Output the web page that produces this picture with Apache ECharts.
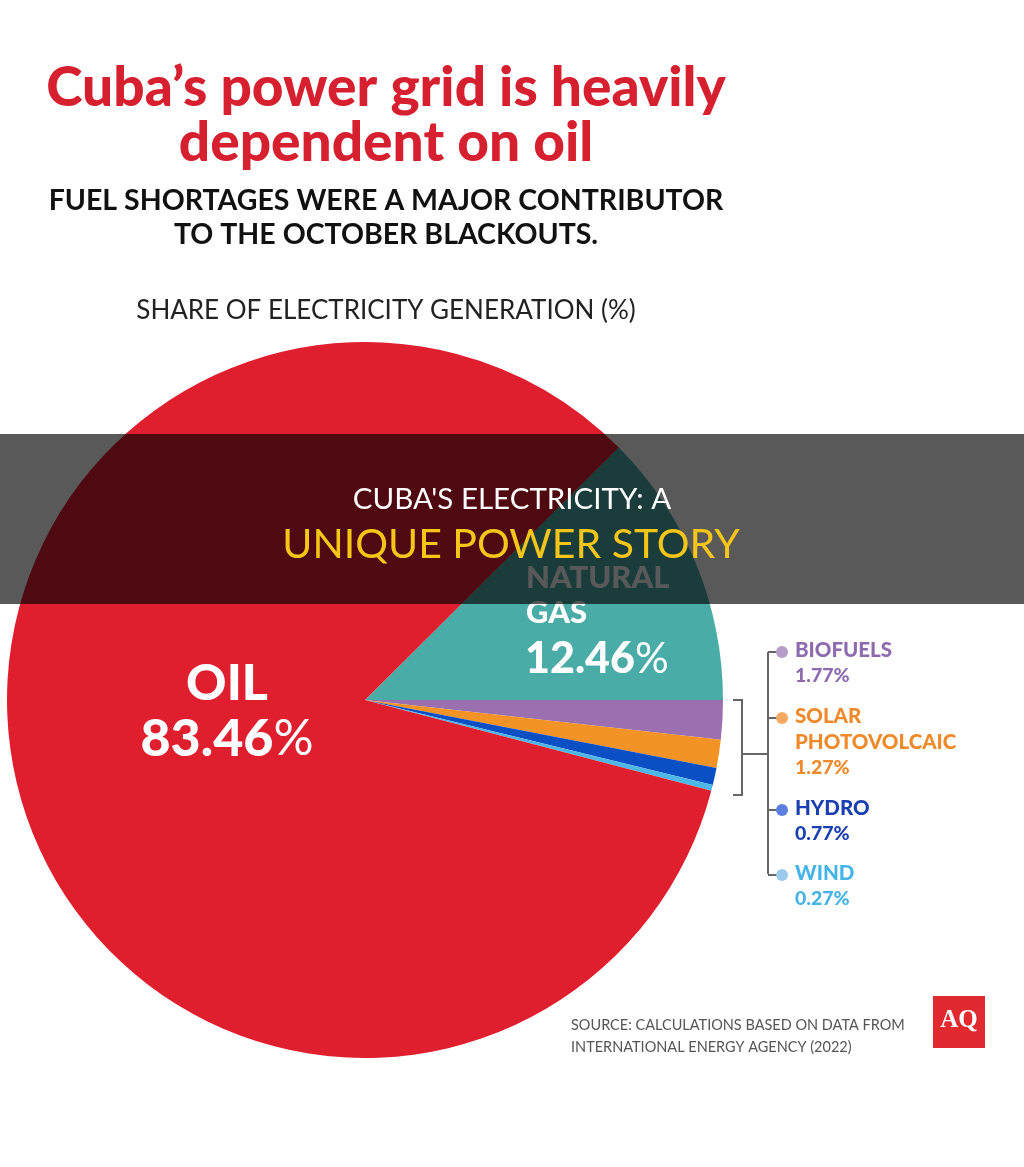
<!DOCTYPE html>
<html>
<head>
<meta charset="utf-8">
<script src="https://cdn.jsdelivr.net/npm/echarts@6/dist/echarts.min.js"></script>
<style>
  html, body { margin: 0; padding: 0; background: #fff; }
  #main { width: 1024px; height: 1167px; }
</style>
</head>
<body>
<div id="main"></div>
<script>
// data
const sources = ["Natural gas", "Biofuels", "Solar photovolcaic", "Hydro", "Wind", "Oil"];
const shares = [12.46, 1.77, 1.27, 0.77, 0.27, 83.46];
const sliceColors = ["#4aaca7", "#9a70b0", "#f39325", "#0b4fc4", "#4db8e8", "#e01f2e"];

// small sources shown in the side list
const smallNames = [["BIOFUELS"], ["SOLAR", "PHOTOVOLCAIC"], ["HYDRO"], ["WIND"]];
const smallShares = [1.77, 1.27, 0.77, 0.27];
const smallText = ["#8e6bb0", "#ef8a2a", "#1a3fb0", "#45b4e8"];
const smallDots = ["#b59cc9", "#f5a862", "#5a7fe0", "#9cc9ec"];

const cx = 365, cy = 700, R = 358;
const FONT = "Lato, 'Open Sans', sans-serif";

let chart = echarts.init(document.getElementById("main"));

function pct(v, big, small) {
  // number heavy, percent sign lighter like the original
  return {
    text: "{n|" + v.toFixed(2) + "}{p|%}",
    rich: {
      n: { font: "900 " + big + "px " + FONT, fill: "#fff" },
      p: { font: "normal " + small + "px " + FONT, fill: "#fff" }
    }
  };
}

let oilPct = pct(shares[5], 52, 50);
let gasPct = pct(shares[0], 43, 42);

let graphics = [
  // titles
  { type: "text", x: 386, y: 88, style: { text: "Cuba\u2019s power grid is heavily", font: "900 55px " + FONT, fill: "#d6202f", textAlign: "center", textVerticalAlign: "middle" } },
  { type: "text", x: 386, y: 143, style: { text: "dependent on oil", font: "900 55px " + FONT, fill: "#d6202f", textAlign: "center", textVerticalAlign: "middle" } },
  { type: "text", x: 386, y: 201, style: { text: "FUEL SHORTAGES WERE A MAJOR CONTRIBUTOR", font: "bold 28.5px " + FONT, fill: "#111", textAlign: "center", textVerticalAlign: "middle" } },
  { type: "text", x: 386, y: 235, style: { text: "TO THE OCTOBER BLACKOUTS.", font: "bold 28.5px " + FONT, fill: "#111", textAlign: "center", textVerticalAlign: "middle" } },
  { type: "text", x: 386, y: 311, style: { text: "SHARE OF ELECTRICITY GENERATION (%)", font: "normal 26px " + FONT, fill: "#222", textAlign: "center", textVerticalAlign: "middle" } },

  // labels inside the pie
  { type: "text", x: 227, y: 684, z: 10, style: { text: "OIL", font: "900 50px " + FONT, fill: "#fff", textAlign: "center", textVerticalAlign: "middle" } },
  { type: "text", x: 227, y: 739, z: 10, style: Object.assign({ textAlign: "center", textVerticalAlign: "middle" }, oilPct) },
  { type: "text", x: 526, y: 578, z: 10, style: { text: "NATURAL", font: "900 31px " + FONT, fill: "#fff", textAlign: "left", textVerticalAlign: "middle" } },
  { type: "text", x: 526, y: 613, z: 10, style: { text: "GAS", font: "900 31px " + FONT, fill: "#fff", textAlign: "left", textVerticalAlign: "middle" } },
  { type: "text", x: 525, y: 659, z: 10, style: Object.assign({ textAlign: "left", textVerticalAlign: "middle" }, gasPct) },

  // bracket
  { type: "polyline", z: 10, shape: { points: [[733, 700], [742, 700], [742, 795], [733, 795]] }, style: { stroke: "#666", lineWidth: 2, fill: null } },
  { type: "line", z: 10, shape: { x1: 742, y1: 754, x2: 768, y2: 754 }, style: { stroke: "#666", lineWidth: 2 } },
  { type: "line", z: 10, shape: { x1: 768, y1: 652, x2: 768, y2: 874 }, style: { stroke: "#666", lineWidth: 2 } },

  // source + logo
  { type: "text", x: 571, y: 1025, style: { text: "SOURCE: CALCULATIONS BASED ON DATA FROM", font: "normal 14.5px " + FONT, fill: "#555", textAlign: "left", textVerticalAlign: "middle" } },
  { type: "text", x: 571, y: 1047, style: { text: "INTERNATIONAL ENERGY AGENCY (2022)", font: "normal 14.5px " + FONT, fill: "#555", textAlign: "left", textVerticalAlign: "middle" } },
  { type: "rect", shape: { x: 933, y: 996, width: 52, height: 52 }, style: { fill: "#e02a2f" } },
  { type: "text", x: 959, y: 1021, style: { text: "AQ", font: "bold 25px 'Liberation Serif', serif", fill: "#fff", textAlign: "center", textVerticalAlign: "middle" } },

  // dark overlay band
  { type: "rect", z: 100, shape: { x: 0, y: 434, width: 1024, height: 170 }, style: { fill: "rgba(0,0,0,0.65)" } },
  { type: "text", x: 512, y: 499, z: 101, style: { text: "CUBA'S ELECTRICITY: A", font: "normal 29.5px " + FONT, fill: "#fff", textAlign: "center", textVerticalAlign: "middle" } },
  { type: "text", x: 511, y: 545, z: 101, style: { text: "UNIQUE POWER STORY", font: "normal 41px " + FONT, fill: "#f5c518", textAlign: "center", textVerticalAlign: "middle" } }
];

// side list for the small sources
const itemTops = [650, 716, 808, 873];
smallNames.forEach(function (lines, i) {
  let y0 = itemTops[i];
  graphics.push({ type: "line", z: 10, shape: { x1: 768, y1: y0 + 2, x2: 778, y2: y0 + 2 }, style: { stroke: "#666", lineWidth: 2 } });
  graphics.push({ type: "circle", z: 11, shape: { cx: 782, cy: y0 + 2, r: 6 }, style: { fill: smallDots[i] } });
  lines.forEach(function (t, j) {
    graphics.push({ type: "text", x: 795, y: y0 + j * 26, z: 10, style: { text: t, font: "900 20.5px " + FONT, fill: smallText[i], textAlign: "left", textVerticalAlign: "middle" } });
  });
  graphics.push({ type: "text", x: 795, y: y0 + lines.length * 26, z: 10, style: { text: smallShares[i].toFixed(2) + "%", font: "900 19.5px " + FONT, fill: smallText[i], textAlign: "left", textVerticalAlign: "middle" } });
});

let option = {
  animation: false,
  backgroundColor: "#fff",
  graphic: { elements: graphics },
  series: [
    {
      type: "pie",
      center: [cx, cy],
      radius: [0, R],
      startAngle: shares[0] / 100 * 360, // gas wedge sits just above the horizontal
      clockwise: true,
      silent: true,
      label: { show: false },
      labelLine: { show: false },
      itemStyle: { borderWidth: 0 },
      emphasis: { disabled: true },
      data: sources.map(function (n, i) {
        return { name: n, value: shares[i], itemStyle: { color: sliceColors[i] } };
      })
    }
  ]
};

chart.setOption(option);
</script>
</body>
</html>
